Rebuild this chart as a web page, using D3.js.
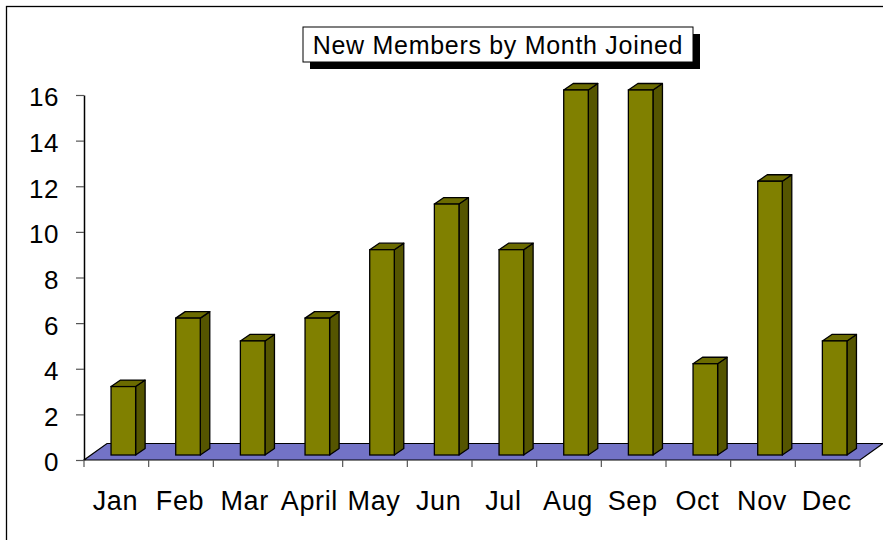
<!DOCTYPE html>
<html>
<head>
<meta charset="utf-8">
<script src="https://cdn.jsdelivr.net/npm/d3@7"></script>
<style>
  body { margin: 0; background: #fff; }
  text { font-family: "Liberation Sans", Arial, sans-serif; fill: #000; }
</style>
</head>
<body>
<script>
var months = ["Jan", "Feb", "Mar", "April", "May", "Jun", "Jul", "Aug", "Sep", "Oct", "Nov", "Dec"];
var members = [3, 6, 5, 6, 9, 11, 9, 16, 16, 4, 12, 5];
var yTicks = [0, 2, 4, 6, 8, 10, 12, 14, 16];
var title = "New Members by Month Joined";

var svgWidth = 883;
var svgHeight = 540;

// plot box (front plane)
var plot = { left: 84, right: 860, top: 95, bottom: 460 };
// floor depth and bar depth
var floorDx = 23, floorDy = -16.5;
var frontDx = 7, frontDy = -5;
var sideDx = 9.5, sideDy = -6.5;

var svg = d3.select("body").append("svg")
    .attr("width", svgWidth)
    .attr("height", svgHeight);

// outer chart border (right/bottom fall outside the picture)
svg.append("rect")
    .attr("x", 6.5).attr("y", 6.5)
    .attr("width", 1000).attr("height", 1000)
    .attr("fill", "none")
    .attr("stroke", "#000")
    .attr("stroke-width", 1.3);

var xScale = d3.scaleBand()
    .domain(months)
    .range([plot.left, plot.right])
    .padding(0);

var yScale = d3.scaleLinear()
    .domain([0, 16])
    .range([plot.bottom, plot.top]);

// floor
var y0 = yScale(0);
svg.append("polygon")
    .attr("points", [
        [plot.left, y0], [plot.right, y0],
        [plot.right + floorDx, y0 + floorDy], [plot.left + floorDx, y0 + floorDy]
    ].map(p => p.join(",")).join(" "))
    .attr("fill", "#7373c6")
    .attr("stroke", "#000")
    .attr("stroke-width", 1.2);

// y axis
var yAxis = svg.append("g")
    .attr("transform", `translate(${plot.left},0)`)
    .call(d3.axisLeft(yScale).tickValues(yTicks).tickSize(8).tickPadding(17).tickSizeOuter(0));
yAxis.select(".domain").attr("stroke", "#000").attr("stroke-width", 1.5);
yAxis.selectAll(".tick line").attr("stroke", "#555").attr("stroke-width", 1.2);
yAxis.selectAll("text").style("font-size", "26px").style("letter-spacing", "0.5px").attr("dy", "0.42em");

// x axis: ticks at category boundaries
var bounds = months.map(m => xScale(m)).concat([plot.right]);
svg.append("g").selectAll("line")
    .data(bounds)
    .enter()
    .append("line")
    .attr("x1", d => d).attr("x2", d => d)
    .attr("y1", y0).attr("y2", y0 + 7)
    .attr("stroke", "#555")
    .attr("stroke-width", 1.2);

var xAxis = svg.append("g")
    .attr("transform", `translate(-1,${y0})`)
    .call(d3.axisBottom(xScale).tickSize(0).tickPadding(31));
xAxis.select(".domain").remove();
xAxis.selectAll("text").style("font-size", "27px").style("letter-spacing", "0.6px");

// bars
var barW = xScale.bandwidth() * 0.38;
var bars = svg.append("g").selectAll("g")
    .data(months.map((m, i) => ({ month: m, value: members[i] })))
    .enter()
    .append("g");

function bx(d) { return xScale(d.month) + xScale.bandwidth() / 2 - barW / 2 + frontDx; }
function by(d) { return yScale(d.value) + frontDy; }
var baseY = y0 + frontDy;

// side face
bars.append("polygon")
    .attr("points", d => {
        var x1 = bx(d) + barW, t = by(d);
        return [[x1, t], [x1 + sideDx, t + sideDy], [x1 + sideDx, baseY + sideDy], [x1, baseY]]
            .map(p => p.join(",")).join(" ");
    })
    .attr("fill", "#555500")
    .attr("stroke", "#000")
    .attr("stroke-width", 1.3)
    .attr("stroke-linejoin", "round");

// top face
bars.append("polygon")
    .attr("points", d => {
        var x0 = bx(d), t = by(d);
        return [[x0, t], [x0 + barW, t], [x0 + barW + sideDx, t + sideDy], [x0 + sideDx, t + sideDy]]
            .map(p => p.join(",")).join(" ");
    })
    .attr("fill", "#6b6b00")
    .attr("stroke", "#000")
    .attr("stroke-width", 1.3)
    .attr("stroke-linejoin", "round");

// front face
bars.append("rect")
    .attr("x", d => bx(d))
    .attr("y", d => by(d))
    .attr("width", barW)
    .attr("height", d => baseY - by(d))
    .attr("fill", "#808000")
    .attr("stroke", "#000")
    .attr("stroke-width", 1.3);

// title box with shadow
var tb = { x: 303, y: 27, w: 390, h: 35, sh: 7 };
svg.append("rect")
    .attr("x", tb.x + tb.sh).attr("y", tb.y + tb.sh)
    .attr("width", tb.w).attr("height", tb.h)
    .attr("fill", "#000");
svg.append("rect")
    .attr("x", tb.x).attr("y", tb.y)
    .attr("width", tb.w).attr("height", tb.h)
    .attr("fill", "#fff")
    .attr("stroke", "#000")
    .attr("stroke-width", 1);
svg.append("text")
    .attr("x", tb.x + tb.w / 2)
    .attr("y", tb.y + 27)
    .attr("text-anchor", "middle")
    .style("font-size", "25px")
    .style("letter-spacing", "0.7px")
    .text(title);
</script>
</body>
</html>
